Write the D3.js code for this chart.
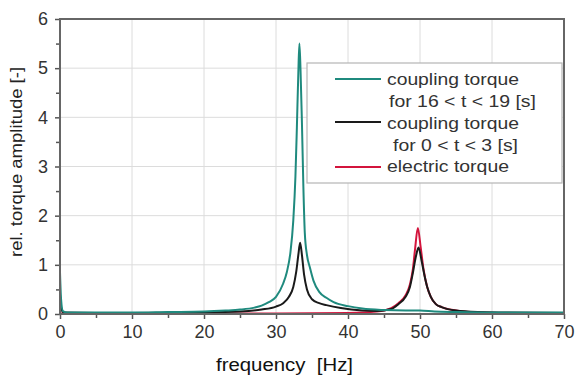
<!DOCTYPE html>
<html><head><meta charset="utf-8">
<script src="https://cdn.jsdelivr.net/npm/d3@7"></script>
<style>body{margin:0;background:#fff}svg{display:block}text{font-family:Arial,"Liberation Sans",sans-serif}</style>
</head><body><svg id="c" width="576" height="378"></svg>
<script>
// ---- data ----
const xTicks = [0,10,20,30,40,50,60,70];
const xMinor = [5,15,25,35,45,55,65];
const yTicks = [0,1,2,3,4,5,6];
const yMinor = [0.5,1.5,2.5,3.5,4.5,5.5];

const seriesNames = ["coupling torque|for 16 < t < 19 [s]","coupling torque| for 0 < t < 3 [s]","electric torque"];

const tealF = [0,0.15,0.4,1,5,10,15,20,23,25,27,28,29,30,31,31.5,32,32.4,32.7,32.9,33.1,33.25,33.4,33.6,33.8,34.0,34.3,34.7,35.2,36,37,38,40,42,45,48,50,52,55,60,65,70];
const tealV = [0.85,0.3,0.06,0.03,0.03,0.03,0.04,0.05,0.07,0.09,0.13,0.17,0.24,0.35,0.62,0.85,1.25,1.9,2.8,3.8,4.9,5.5,5.0,3.9,2.6,1.65,1.2,0.95,0.68,0.45,0.33,0.24,0.16,0.11,0.08,0.07,0.07,0.05,0.04,0.03,0.03,0.03];

const blackF = [0,0.2,0.5,5,10,20,25,28,30,31,31.8,32.4,32.8,33.1,33.35,33.6,33.9,34.3,35,36,37,39,42,44,46,47,48,48.6,49,49.4,49.8,50.2,50.6,51,51.5,52.2,53,55,58,62,70];
const blackV = [0.4,0.1,0.03,0.02,0.02,0.03,0.05,0.09,0.15,0.22,0.35,0.55,0.85,1.2,1.45,1.2,0.8,0.5,0.3,0.22,0.18,0.12,0.07,0.06,0.1,0.2,0.35,0.55,0.83,1.15,1.35,1.1,0.8,0.55,0.35,0.2,0.14,0.07,0.04,0.03,0.02];

const redF = [0,10,20,30,40,44,46,47,48,48.6,49,49.3,49.7,50.1,50.5,51,51.5,52.2,53,55,58,62,70];
const redV = [0.01,0.01,0.01,0.01,0.02,0.05,0.12,0.22,0.38,0.6,0.9,1.3,1.75,1.35,0.9,0.55,0.35,0.2,0.14,0.07,0.03,0.02,0.01];

const colors = ["#1f8a7e","#1a1a1a","#d3143c"];

// ---- chart ----
const svg = d3.select("#c");
const L=60,R=564,T=19,B=314;
const x = d3.scaleLinear().domain([0,70]).range([L,R]);
const y = d3.scaleLinear().domain([0,6]).range([B,T]);

// grid
const g = svg.append("g");
g.selectAll("line.gx").data(xTicks.slice(1,-1)).join("line")
 .attr("x1",d=>x(d)).attr("x2",d=>x(d)).attr("y1",T).attr("y2",B)
 .attr("stroke","#dcdcdc").attr("stroke-width",1);
g.selectAll("line.gy").data(yTicks.slice(1,-1)).join("line")
 .attr("y1",d=>y(d)).attr("y2",d=>y(d)).attr("x1",L).attr("x2",R)
 .attr("stroke","#dcdcdc").attr("stroke-width",1);

// curves
svg.append("clipPath").attr("id","clp").append("rect").attr("x",L).attr("y",T).attr("width",R-L).attr("height",B-T);
const line = d3.line().x(d=>x(d[0])).y(d=>y(d[1])).curve(d3.curveMonotoneX);
const series = [
  {f:redF,v:redV,c:colors[2]},
  {f:blackF,v:blackV,c:colors[1]},
  {f:tealF,v:tealV,c:colors[0]}
];
const lg = svg.append("g").attr("clip-path","url(#clp)");
series.forEach(s=>{
  lg.append("path").datum(s.f.map((f,i)=>[f,s.v[i]]))
   .attr("d",line).attr("fill","none").attr("stroke",s.c).attr("stroke-width",2).attr("stroke-linejoin","round");
});

// axes
const fs = "18px";
const ax = svg.append("g").attr("transform",`translate(0,${B})`)
  .call(d3.axisBottom(x).tickValues(xTicks).tickSize(5).tickPadding(6).tickFormat(d3.format("d")));
const axm = svg.append("g").attr("transform",`translate(0,${B})`)
  .call(d3.axisBottom(x).tickValues(xMinor).tickSize(4).tickFormat(""));
const ay = svg.append("g").attr("transform",`translate(${L},0)`)
  .call(d3.axisLeft(y).tickValues(yTicks).tickSize(5).tickPadding(6).tickFormat(d3.format("d")));
const aym = svg.append("g").attr("transform",`translate(${L},0)`)
  .call(d3.axisLeft(y).tickValues(yMinor).tickSize(4).tickFormat(""));
[ax,axm,ay,aym].forEach(a=>{
  a.select(".domain").remove();
  a.selectAll(".tick line").attr("stroke","#555").attr("stroke-width",1.5);
  a.selectAll("text").attr("font-size",fs).attr("fill","#333").attr("font-family","Arial, 'Liberation Sans', sans-serif");
});
ay.selectAll("text").attr("dx","-1");

// frame
svg.append("rect").attr("x",L).attr("y",T).attr("width",R-L).attr("height",B-T)
 .attr("fill","none").attr("stroke","#666").attr("stroke-width",2);

// axis labels
svg.append("text").attr("x",216).attr("y",371).attr("font-size","18px").attr("fill","#111")
 .attr("textLength",137).attr("lengthAdjust","spacingAndGlyphs").text("frequency  [Hz]").style("white-space","pre");
svg.append("text").attr("transform","translate(22,162) rotate(-90)").attr("text-anchor","middle")
 .attr("font-size","16px").attr("fill","#222").attr("textLength",190).attr("lengthAdjust","spacingAndGlyphs")
 .text("rel. torque amplitude [-]");

// legend
const leg = svg.append("g");
leg.append("rect").attr("x",307).attr("y",63).attr("width",255).attr("height",120)
 .attr("fill","#fff").attr("stroke","#b5b5b5").attr("stroke-width",1.2);
const legItems = [
  {c:colors[0],ly:79,lines:[{t:seriesNames[0].split("|")[0],x:387,y:85,w:132},{t:seriesNames[0].split("|")[1],x:389,y:107,w:147}]},
  {c:colors[1],ly:122,lines:[{t:seriesNames[1].split("|")[0],x:387,y:129,w:132},{t:seriesNames[1].split("|")[1].trim(),x:393,y:151,w:125}]},
  {c:colors[2],ly:167,lines:[{t:seriesNames[2],x:387,y:172,w:122}]}
];
legItems.forEach(it=>{
  leg.append("line").attr("x1",335).attr("x2",381).attr("y1",it.ly).attr("y2",it.ly).attr("stroke",it.c).attr("stroke-width",2);
  it.lines.forEach(l=>{
    leg.append("text").attr("x",l.x).attr("y",l.y).attr("font-size","17px").attr("fill","#333")
     .attr("textLength",l.w).attr("lengthAdjust","spacingAndGlyphs").text(l.t);
  });
});
</script></body></html>
